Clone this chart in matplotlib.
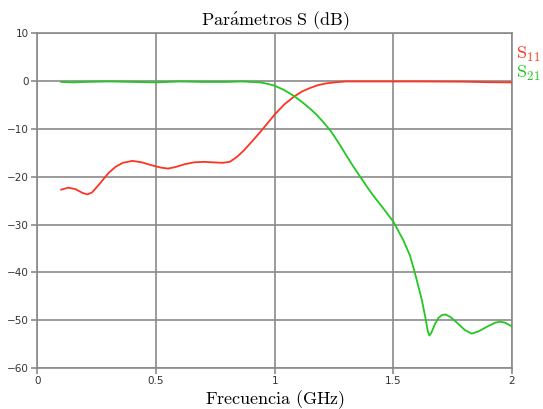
import numpy as np
import matplotlib
matplotlib.use('Agg')
import matplotlib.pyplot as plt

# Parámetros S de un filtro paso bajo (dB)
f_s11 = [0.10, 0.13, 0.16, 0.19, 0.21, 0.23, 0.26, 0.30, 0.33, 0.36, 0.40, 0.44,
         0.48, 0.52, 0.55, 0.58, 0.62, 0.66, 0.70, 0.74, 0.78, 0.81, 0.84, 0.87,
         0.91, 0.94, 0.97, 1.00, 1.04, 1.083, 1.115, 1.147, 1.18, 1.217, 1.26, 1.30,
         1.40, 1.60, 1.80, 1.90, 2.00]
s11 = [-22.7, -22.3, -22.6, -23.4, -23.7, -23.3, -21.6, -19.2, -17.9, -17.1, -16.7, -17.0,
       -17.6, -18.1, -18.3, -18.0, -17.4, -17.0, -16.9, -17.0, -17.1, -16.9, -15.9, -14.5,
       -12.3, -10.6, -8.8, -7.0, -4.9, -3.2, -2.2, -1.5, -0.9, -0.5, -0.25, -0.1,
       -0.1, -0.1, -0.15, -0.25, -0.3]

f_s21 = [0.10, 0.15, 0.20, 0.30, 0.40, 0.50, 0.60, 0.70, 0.80, 0.86, 0.90, 0.94,
         0.97, 1.00, 1.04, 1.083, 1.115, 1.147, 1.175, 1.203, 1.238, 1.27, 1.301, 1.33,
         1.36, 1.39, 1.416, 1.46, 1.50, 1.542, 1.57, 1.59, 1.62, 1.635, 1.645, 1.652,
         1.66, 1.675, 1.69, 1.705, 1.72, 1.74, 1.77, 1.80, 1.83, 1.86, 1.90, 1.93,
         1.95, 1.97, 2.00]
s21 = [-0.2, -0.3, -0.2, -0.1, -0.2, -0.3, -0.1, -0.2, -0.2, -0.1, -0.2, -0.3,
       -0.6, -1.0, -1.9, -3.2, -4.4, -5.7, -7.0, -8.5, -10.6, -13.0, -15.5, -17.8,
       -20.0, -22.2, -24.0, -26.8, -29.4, -33.3, -36.5, -40.0, -45.8, -49.5, -52.3, -53.2,
       -52.6, -50.8, -49.5, -48.9, -48.8, -49.3, -50.6, -52.0, -52.8, -52.3, -51.2, -50.5,
       -50.3, -50.5, -51.3]

xticks = [0, 0.5, 1, 1.5, 2]
xticklabels = ['0', '0.5', '1', '1.5', '2']
yticks = [10, 0, -10, -20, -30, -40, -50, -60]

rojo = '#ff3322'
verde = '#22c722'
gris = '#8a8a8a'

plt.rcParams['mathtext.fontset'] = 'cm'

fig = plt.figure(figsize=(5.43, 4.09), dpi=100)
ax = fig.add_axes([0.069, 0.10, 0.874, 0.819])

ax.plot(f_s11, s11, color=rojo, lw=1.3, zorder=3)
ax.plot(f_s21, s21, color=verde, lw=1.3, zorder=3)

ax.set_xlim(0, 2)
ax.set_ylim(-60, 10)
ax.set_xticks(xticks)
ax.set_xticklabels(xticklabels)
ax.set_yticks(yticks)
ax.grid(True, color=gris, lw=1.2)
for s in ax.spines.values():
    s.set_color(gris)
    s.set_linewidth(1.2)
ax.tick_params(length=4, width=1.2, color=gris, labelsize=7.5,
               labelcolor='#333333', pad=2)

ax.set_title(r'$\mathrm{Par\acute{a}metros\ S\ (dB)}$', fontsize=13, pad=6)
ax.set_xlabel(r'$\mathrm{Frecuencia\ (GHz)}$', fontsize=13, labelpad=1)

fig.text(0.951, 0.868, r'$\mathrm{S}_{11}$', color=rojo, fontsize=13, va='center')
fig.text(0.951, 0.820, r'$\mathrm{S}_{21}$', color=verde, fontsize=13, va='center')

fig.savefig('out.png', dpi=100)
